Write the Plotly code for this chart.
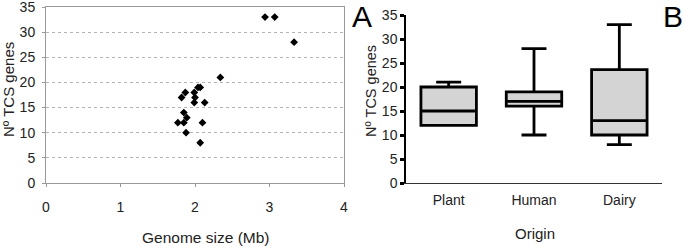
import plotly.graph_objects as go

# Panel A: genome size vs number of TCS genes
genome_size = [2.94, 3.07, 3.33, 2.34, 2.04, 2.07, 1.87, 1.99, 1.82, 2.00,
               1.99, 2.13, 1.85, 1.89, 1.77, 1.85, 2.10, 1.88, 2.07]
tcs_genes = [33, 33, 28, 21, 19, 19, 18, 18, 17, 17,
             16, 16, 14, 13, 12, 12, 12, 10, 8]

# Panel B: box statistics by origin
origin = ["Plant", "Human", "Dairy"]
box_min = [12, 10, 8]
box_q1 = [12, 16, 10]
box_median = [15, 17, 13]
box_q3 = [20, 19, 23.6]
box_max = [21, 28, 33]

x_ticks_a = [0, 1, 2, 3, 4]
y_ticks = [0, 5, 10, 15, 20, 25, 30, 35]

W, H = 685, 246
def px(x):
    return x / W
def py(y):
    return 1 - y / H

FONT = "Liberation Sans, Arial, sans-serif"
TXT = "#222222"

fig = go.Figure()
fig.add_trace(go.Scatter(
    x=genome_size, y=tcs_genes, mode="markers",
    marker=dict(symbol="diamond", size=6, color="black"),
    xaxis="x", yaxis="y", showlegend=False, cliponaxis=False))

fig.add_trace(go.Box(
    x=origin, q1=box_q1, median=box_median, q3=box_q3,
    lowerfence=box_min, upperfence=box_max,
    fillcolor="#d4d4d4", line=dict(color="black", width=2.8),
    whiskerwidth=0.45, width=0.65,
    xaxis="x2", yaxis="y2", showlegend=False))

def label(text, x, y, size, angle=0, color=TXT):
    return dict(text=text, x=px(x), y=py(y), xref="paper", yref="paper",
                xanchor="center", yanchor="middle", textangle=angle,
                showarrow=False, font=dict(size=size, color=color))

fig.update_layout(
    width=W, height=H,
    margin=dict(l=0, r=0, t=0, b=0),
    paper_bgcolor="white", plot_bgcolor="white",
    font=dict(family=FONT, size=14, color=TXT),
    xaxis=dict(domain=[px(46), px(344)], range=[0, 4], tickvals=x_ticks_a,
               showgrid=False, zeroline=False, showline=True, linecolor="#999999",
               linewidth=1, mirror=True, ticks="outside", ticklen=3,
               tickcolor="#999999", anchor="y", automargin=False,
               ticklabelstandoff=8, tickfont=dict(size=14, color=TXT)),
    yaxis=dict(domain=[py(183), py(7)], range=[0, 35], tickvals=y_ticks,
               showgrid=True, gridcolor="#b4b4b4", griddash="dot", gridwidth=1,
               zeroline=False, showline=True, linecolor="#999999", linewidth=1,
               mirror=True, ticks="outside", ticklen=3, tickcolor="#999999",
               anchor="x", automargin=False, ticklabeloverflow="allow",
               ticklabelstandoff=4, tickfont=dict(size=14, color=TXT)),
    xaxis2=dict(domain=[px(406), px(662)], range=[-0.5, 2.5], type="category",
                showgrid=False, zeroline=False, showline=True, linecolor="#333333",
                linewidth=1, ticks="", anchor="y2", automargin=False,
                ticklabelstandoff=4, tickfont=dict(size=14, color=TXT)),
    yaxis2=dict(domain=[py(183), py(15)], range=[0, 35], tickvals=y_ticks,
                showgrid=False, zeroline=False, showline=True, linecolor="black",
                linewidth=1.5, ticks="outside", ticklen=4, tickwidth=2.5,
                tickcolor="black", anchor="x2", automargin=False,
                ticklabeloverflow="allow", tickfont=dict(size=14, color=TXT)),
    annotations=[
        label("Nº TCS genes", 8, 90, 15, -90),
        label("Genome size (Mb)", 205, 237, 15.5),
        label("Nº TCS genes", 371, 91, 14.5, -90),
        label("Origin", 535, 233, 15),
        label("A", 362, 17, 30, color="black"),
        label("B", 673, 16, 30, color="black"),
    ],
)

fig.write_html("out.html", config={"displayModeBar": False},
               post_script="document.body.style.margin='0';document.body.style.overflow='hidden';")
